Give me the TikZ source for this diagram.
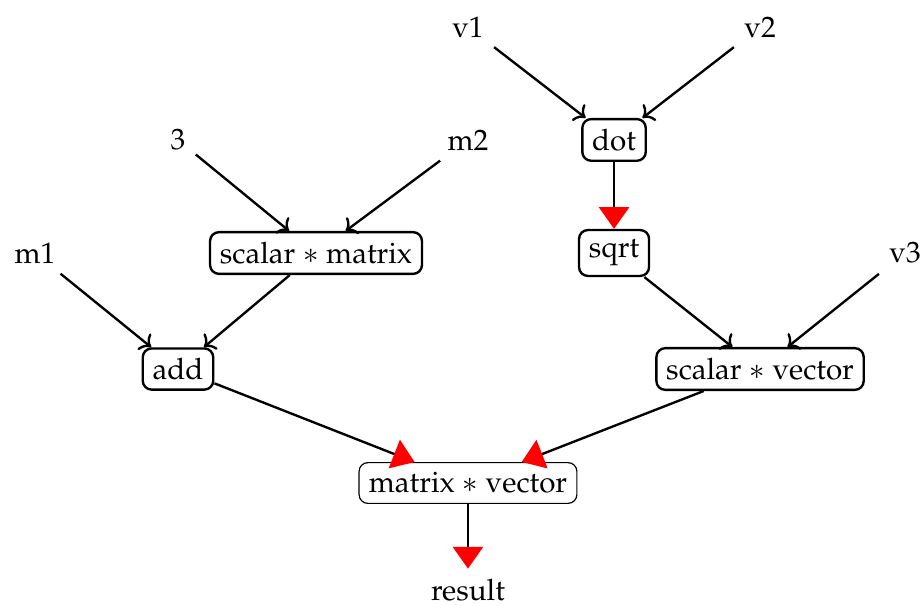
\documentclass[tikz,border=0pt]{standalone}
\usepackage[T1]{fontenc}
\usepackage{mathpazo}
\usepackage{tikz}
\usetikzlibrary{arrows.meta}

\begin{document}
\begin{tikzpicture}[
  op/.style={draw, thick, rounded corners=3pt},
  opthin/.style={draw, thin, rounded corners=3pt},
  leaf/.style={},
  edge/.style={thick, ->},
  rededge/.style={thick, -{Triangle[red,length=2.6mm,width=3.6mm]}}
]
\useasboundingbox (0,0) rectangle (10.976,7.214);

% inputs
\node[leaf] (v1) at (5.571,6.893) {v1};
\node[leaf] (v2) at (9.048,6.893) {v2};
\node[leaf] (three) at (2.119,5.548) {3};
\node[leaf] (m2) at (5.571,5.548) {m2};
\node[leaf] (m1) at (0.417,4.202) {m1};
\node[leaf] (v3) at (10.774,4.202) {v3};

% operations
\node[op] (dot) at (7.310,5.548) {dot};
\node[op] (scalmat) at (3.762,4.202) {scalar $*$ matrix};
\node[op] (sqrt) at (7.310,4.202) {sqrt};
\node[op] (add) at (2.119,2.821) {add};
\node[op] (scalvec) at (9.048,2.821) {scalar $*$ vector};
\node[opthin] (matvec) at (5.571,1.464) {matrix $*$ vector};
\node[leaf] (result) at (5.571,0.19) {result};

\draw[edge] (v1) -- (dot);
\draw[edge] (v2) -- (dot);
\draw[edge] (three) -- (scalmat);
\draw[edge] (m2) -- (scalmat);
\draw[rededge] (dot) -- (sqrt);
\draw[edge] (m1) -- (add);
\draw[edge] (scalmat) -- (add);
\draw[edge] (sqrt) -- (scalvec);
\draw[edge] (v3) -- (scalvec);
\draw[rededge] (add) -- (matvec);
\draw[rededge] (scalvec) -- (matvec);
\draw[rededge] (matvec) -- (result);
\end{tikzpicture}
\end{document}
